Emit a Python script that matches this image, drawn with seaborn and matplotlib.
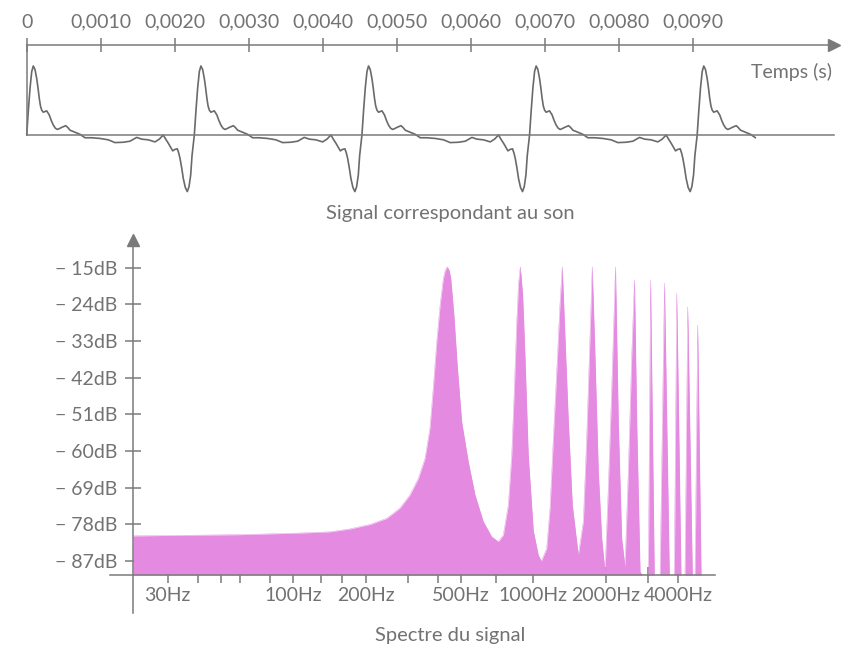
import numpy as np
import matplotlib
matplotlib.use('Agg')
import matplotlib.pyplot as plt
from matplotlib.ticker import FixedLocator, NullLocator
import seaborn as sns

# --- signal : une période (temps en ms depuis le passage à zéro montant)
period_ms = [0, 0.022, 0.045, 0.068, 0.089, 0.112, 0.135, 0.153, 0.170, 0.186,
             0.203, 0.224, 0.270, 0.305, 0.332, 0.359, 0.386, 0.414, 0.446, 0.473,
             0.527, 0.554, 0.585, 0.653, 0.720, 0.788, 0.878, 0.991, 1.103, 1.193,
             1.305, 1.396, 1.486, 1.554, 1.643, 1.734, 1.792, 1.846, 1.878, 1.914,
             1.973, 2.000, 2.035, 2.054, 2.072, 2.095, 2.116, 2.143, 2.170, 2.193,
             2.216, 2.234]
period_amp = [0, 0.35, 0.68, 0.92, 1.0, 0.95, 0.82, 0.68, 0.53, 0.42,
              0.36, 0.33, 0.35, 0.29, 0.21, 0.145, 0.10, 0.08, 0.095, 0.11,
              0.135, 0.11, 0.07, 0.04, 0.01, -0.04, -0.04, -0.05, -0.07, -0.11,
              -0.105, -0.09, -0.035, -0.06, -0.07, -0.10, -0.06, 0.0, -0.06, -0.12,
              -0.23, -0.21, -0.20, -0.26, -0.34, -0.48, -0.63, -0.76, -0.82, -0.75,
              -0.58, -0.30]
period_starts_ms = [0, 2.265, 4.53, 6.795, 9.06]
signal_end_ms = 9.88

time_ticks = [0, 0.001, 0.002, 0.003, 0.004, 0.005, 0.006, 0.007, 0.008, 0.009]
time_labels = ['0', '0,0010', '0,0020', '0,0030', '0,0040', '0,0050',
               '0,0060', '0,0070', '0,0080', '0,0090']

# --- spectre (Hz, dB)
spec_hz = [21.5, 60, 106.6, 142, 172, 208.8, 245, 278, 306, 332, 354, 371, 383,
           396, 409, 422, 430, 438, 446, 453, 467, 482, 503, 536, 572, 619, 671,
           715, 750, 787, 813, 834, 853, 869, 883, 903, 923, 953, 1000, 1049,
           1080, 1137, 1174, 1212, 1252, 1291, 1320, 1356, 1400, 1454, 1540,
           1616, 1669, 1722, 1760, 1807, 1866, 1928, 1990, 2053, 2122, 2200,
           2260, 2335, 2410, 2488, 2571, 2640, 2697, 2785, 2845, 3015, 3080,
           3192, 3374, 3520, 3688, 3868, 3960, 4124, 4285, 4400, 4597, 4720,
           4840, 5000]
spec_db = [-80.8, -80.5, -80.1, -79.8, -79.1, -78.0, -76.5, -74.0, -70.8, -66.7,
           -61.8, -54.4, -44.6, -33.2, -24.2, -17.6, -15.6, -14.8, -15.6, -17.6,
           -26.6, -38.9, -52.8, -62.6, -70.8, -77.3, -81.0, -82.2, -80.6, -73.2,
           -61.0, -44.6, -28.3, -18.4, -14.8, -21.7, -36.4, -61.0, -79.5, -85.5,
           -87.0, -83.9, -74.0, -56.9, -40.5, -24.2, -14.8, -32.3, -52.8, -73.2,
           -85.5, -77.3, -56.9, -32.3, -14.8, -36.4, -65.1, -81.4, -89.6, -69.1,
           -44.6, -14.8, -52.8, -81.4, -88.4, -65.1, -36.4, -18.0, -52.8, -89.6,
           -90.4, -90.4, -18.0, -90.4, -90.4, -18.8, -90.4, -90.4, -21.3, -90.4,
           -90.4, -24.6, -90.4, -90.4, -29.1, -90.4]

db_ticks = [-15, -24, -33, -42, -51, -60, -69, -78, -87]
hz_ticks = [30, 40, 50, 60, 80, 100, 130, 160, 200, 300, 400, 500, 700,
            1000, 2000, 3000, 4000]
hz_labels = {30: '30Hz', 100: '100Hz', 200: '200Hz', 500: '500Hz',
             1000: '1000Hz', 2000: '2000Hz', 4000: '4000Hz'}

sns.set_theme(style='ticks')
plt.rcParams['font.family'] = ['Lato', 'DejaVu Sans']

TXT = '#727272'
LINE = '#7a7a7a'
SIG = '#6a6a6a'
FILL = '#e48ae0'
FS = 14

W, H = 847, 648
fig = plt.figure(figsize=(W / 100, H / 100), dpi=100)


def px_box(x0, y0, x1, y1):
    return [x0 / W, 1 - y1 / H, (x1 - x0) / W, (y1 - y0) / H]


# ---------------- signal ----------------
ax1 = fig.add_axes(px_box(26.7, 45, 834, 135))
t = np.concatenate([np.array(period_ms) + s for s in period_starts_ms])
a = np.tile(period_amp, len(period_starts_ms))
keep = t <= signal_end_ms
sns.lineplot(x=t[keep] / 1000, y=a[keep], ax=ax1, color=SIG, lw=1.2,
             sort=False, estimator=None)
for ln in ax1.lines:
    ln.set_clip_on(False)
    ln.set_solid_joinstyle('round')

ax1.set_xlim(0, 0.010909)
ax1.set_ylim(0, 1.304)
ax1.spines['right'].set_visible(False)
for s in ['top', 'left', 'bottom']:
    ax1.spines[s].set_color(LINE)
    ax1.spines[s].set_linewidth(1.1)
ax1.set_yticks([])
ax1.xaxis.set_major_locator(FixedLocator(time_ticks))
ax1.set_xticklabels(time_labels)
ax1.xaxis.set_minor_locator(NullLocator())
ax1.tick_params(axis='x', top=True, bottom=False, labeltop=True, labelbottom=False,
                direction='inout', length=10.5, width=1.1, color=LINE,
                labelcolor=TXT, labelsize=FS, pad=5)
ax1.set_xlabel('')
ax1.set_ylabel('')
ax1.plot([1], [1], marker='>', ms=8, color=LINE, transform=ax1.transAxes,
         clip_on=False)
ax1.text(0.9975, 0.70, 'Temps (s)', transform=ax1.transAxes, ha='right',
         va='center', color=TXT, fontsize=FS)
fig.text(450 / W, 1 - 214 / H, 'Signal correspondant au son', ha='center',
         va='center', color=TXT, fontsize=FS + 0.5)

# ---------------- spectre ----------------
ax2 = fig.add_axes(px_box(133, 240, 715, 575))
ax2.set_xscale('log')
floor = -90.4
sns.lineplot(x=spec_hz, y=spec_db, ax=ax2, color=FILL, lw=0.3,
             sort=False, estimator=None)
ax2.fill_between(spec_hz, spec_db, floor, color=FILL, lw=0)
ax2.set_xlim(21.5, 5715)
ax2.set_ylim(floor, -8.2)

for s in ['top', 'right']:
    ax2.spines[s].set_visible(False)
for s in ['left', 'bottom']:
    ax2.spines[s].set_color(LINE)
    ax2.spines[s].set_linewidth(1.1)
    ax2.spines[s].set_zorder(3)
ax2.spines['bottom'].set_bounds(17.2, 5715)
ax2.spines['left'].set_bounds(-99.7, -8.2)

ax2.xaxis.set_major_locator(FixedLocator(hz_ticks))
ax2.xaxis.set_minor_locator(NullLocator())
ax2.set_xticklabels([hz_labels.get(h, '') for h in hz_ticks])
ax2.yaxis.set_major_locator(FixedLocator(db_ticks))
ax2.set_yticklabels([f'\u2212 {abs(v)}dB' for v in db_ticks])
ax2.tick_params(axis='both', direction='inout', length=11, width=1.1,
                color=LINE, labelcolor=TXT, labelsize=FS)
ax2.tick_params(axis='x', pad=3)
ax2.tick_params(axis='y', pad=6)
ax2.set_xlabel('')
ax2.set_ylabel('')
ax2.plot([0], [1], marker='^', ms=8, color=LINE, transform=ax2.transAxes,
         clip_on=False)
fig.text(450 / W, 1 - 636 / H, 'Spectre du signal', ha='center', va='center',
         color=TXT, fontsize=FS + 0.5)

fig.savefig('out.png', dpi=100)
